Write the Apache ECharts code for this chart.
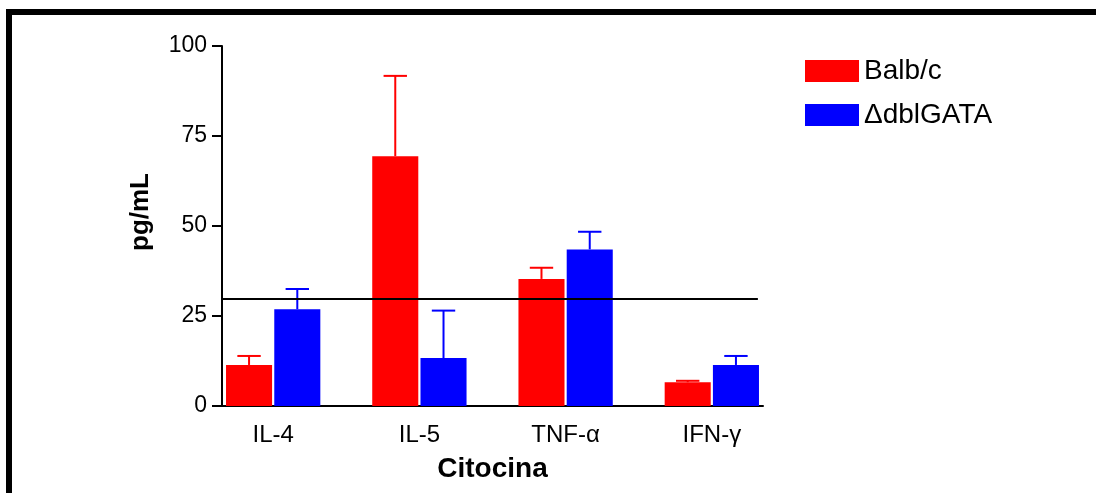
<!DOCTYPE html>
<html>
<head>
<meta charset="utf-8">
<style>
  html, body { margin: 0; padding: 0; background: #fff; }
  #chart { width: 1096px; height: 493px; }
</style>
<script src="https://cdn.jsdelivr.net/npm/echarts@6/dist/echarts.min.js"></script>
</head>
<body>
<div id="chart"></div>
<script>
// Cytokine levels (pg/mL), mean and upper error, per strain
const categories = ['IL-4', 'IL-5', 'TNF-\u03b1', 'IFN-\u03b3'];
const seriesNames = ['Balb/c', '\u0394dblGATA'];
const balbMean = [11.4, 69.4, 35.3, 6.6];
const balbErr  = [13.9, 91.7, 38.4, 7.0];
const dblMean  = [26.9, 13.3, 43.5, 11.4];
const dblErr   = [32.5, 26.5, 48.4, 13.9];
const yTicks = [0, 25, 50, 75, 100];
const refLevel = 29.7;

const FONT = "'Liberation Sans', Arial, Helvetica, sans-serif";
const colors = ['#ff0000', '#0000ff'];

// bar geometry in category units
const BAR_W = 0.315;
const BAR_OFF = [-0.165, 0.165];
const CAP_W = 0.16;

function makeBarSeries(idx, means, errs) {
  return {
    type: 'custom',
    name: seriesNames[idx],
    itemStyle: { color: colors[idx] },
    data: means.map((m, i) => [i, m, errs[i]]),
    renderItem: function (params, api) {
      const c = api.value(0) + BAR_OFF[idx];
      const v = api.value(1);
      const e = api.value(2);
      const tl = api.coord([c - BAR_W / 2, v]);
      const br = api.coord([c + BAR_W / 2, 0]);
      const top = api.coord([c, e]);
      const mid = api.coord([c, v]);
      const capL = api.coord([c - CAP_W / 2, e]);
      const capR = api.coord([c + CAP_W / 2, e]);
      const col = colors[idx];
      return {
        type: 'group',
        children: [
          { type: 'rect', shape: { x: tl[0], y: tl[1], width: br[0] - tl[0], height: br[1] - tl[1] },
            style: { fill: col } },
          { type: 'line', shape: { x1: mid[0], y1: mid[1], x2: top[0], y2: top[1] },
            style: { stroke: col, lineWidth: 2 } },
          { type: 'line', shape: { x1: capL[0], y1: capL[1], x2: capR[0], y2: capR[1] },
            style: { stroke: col, lineWidth: 2 } }
        ]
      };
    }
  };
}

const chart = echarts.init(document.getElementById('chart'), null, { renderer: 'canvas' });

const X_MIN = -0.35, X_MAX = 3.35;

chart.setOption({
  animation: false,
  backgroundColor: '#ffffff',
  grid: { left: 222, right: 333, top: 46, bottom: 87, containLabel: false },
  legend: {
    left: 800, top: 52,
    orient: 'vertical',
    icon: 'rect',
    itemWidth: 54, itemHeight: 22, itemGap: 16,
    data: seriesNames,
    textStyle: { fontFamily: FONT, fontSize: 28, color: '#000' },
    selectedMode: false
  },
  xAxis: {
    type: 'value',
    min: X_MIN, max: X_MAX,
    splitLine: { show: false },
    axisTick: { show: false },
    axisLine: { show: true, onZero: false, lineStyle: { color: '#000', width: 2 } },
    axisLabel: {
      customValues: categories.map((_, i) => i),
      formatter: v => categories[Math.round(v)],
      fontFamily: FONT, fontSize: 24, color: '#000', margin: 17
    },
    name: 'Citocina',
    nameLocation: 'middle',
    nameGap: 49,
    nameTextStyle: { fontFamily: FONT, fontSize: 28, fontWeight: 'bold', color: '#000' }
  },
  yAxis: {
    type: 'value',
    min: 0, max: 100, interval: 25,
    splitLine: { show: false },
    axisLine: { show: true, onZero: false, lineStyle: { color: '#000', width: 2 } },
    axisTick: { show: true, length: 10, lineStyle: { color: '#000', width: 2 } },
    axisLabel: {
      customValues: yTicks,
      fontFamily: FONT, fontSize: 23, color: '#000', margin: 15
    }
  },
  graphic: [
    { type: 'rect', shape: { x: 6, y: 9, width: 1090, height: 6 }, style: { fill: '#000' } },
    { type: 'rect', shape: { x: 6, y: 9, width: 6, height: 484 }, style: { fill: '#000' } },
    { type: 'text', x: 141, y: 212, rotation: Math.PI / 2,
      style: { text: 'pg/mL', fontFamily: FONT, fontSize: 26, fontWeight: 'bold', fill: '#000',
               align: 'center', verticalAlign: 'middle' } }
  ],
  series: [
    makeBarSeries(0, balbMean, balbErr),
    makeBarSeries(1, dblMean, dblErr),
    {
      type: 'line',
      name: 'ref',
      silent: true,
      symbol: 'none',
      data: [[X_MIN, refLevel], [3.315, refLevel]],
      lineStyle: { color: '#000', width: 2 },
      z: 5
    }
  ]
});
</script>
</body>
</html>
